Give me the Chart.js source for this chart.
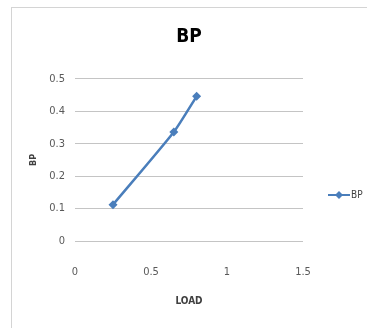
<!DOCTYPE html>
<html>
<head>
<meta charset="utf-8">
<script src="https://cdn.jsdelivr.net/npm/chart.js@4/dist/chart.umd.min.js"></script>
<style>
  html, body { margin: 0; padding: 0; background: #fff; overflow: hidden; }
  #wrap { position: relative; width: 367px; height: 328px; }
  #frame { position: absolute; left: 11px; top: 7px; width: 400px; height: 400px; border: 1px solid #d4d4d4; }
  canvas { position: absolute; left: 0; top: 0; }
</style>
</head>
<body>
<div id="wrap">
  <div id="frame"></div>
  <canvas id="bpChart" width="367" height="328"></canvas>
</div>
<script>
// load vs brake power
const loadValues = [0.25, 0.65, 0.8];
const bpValues = [0.112, 0.336, 0.446];
const xTicks = [0, 0.5, 1, 1.5];
const yTicks = [0, 0.1, 0.2, 0.3, 0.4, 0.5];

const FONT = '"Liberation Sans Narrow", "DejaVu Sans Condensed", sans-serif';
const BLUE = '#4a7ebb';

const points = loadValues.map((x, i) => ({x: x, y: bpValues[i]}));

// legend on the right: line with diamond marker
const sideLegend = {
    id: 'sideLegend',
    afterDraw(chart) {
        const {ctx} = chart;
        const y = 195;
        ctx.save();
        ctx.strokeStyle = BLUE;
        ctx.lineWidth = 2;
        ctx.beginPath();
        ctx.moveTo(328, y);
        ctx.lineTo(350, y);
        ctx.stroke();
        ctx.fillStyle = BLUE;
        ctx.beginPath();
        ctx.moveTo(339, y - 4);
        ctx.lineTo(343, y);
        ctx.lineTo(339, y + 4);
        ctx.lineTo(335, y);
        ctx.closePath();
        ctx.fill();
        ctx.fillStyle = '#404040';
        ctx.font = '10px ' + FONT;
        ctx.textAlign = 'left';
        ctx.textBaseline = 'middle';
        ctx.fillText('BP', 351, y);
        ctx.restore();
    }
};

new Chart(document.getElementById('bpChart').getContext('2d'), {
    type: 'scatter',
    data: {
        datasets: [{
            label: 'BP',
            data: points,
            showLine: true,
            tension: 0.2,
            borderColor: BLUE,
            backgroundColor: BLUE,
            borderWidth: 2.5,
            pointStyle: 'rectRot',
            pointRadius: 4.5,
            pointBorderWidth: 0
        }]
    },
    options: {
        responsive: false,
        animation: false,
        layout: { padding: { left: 11, right: 64, top: 0, bottom: 0 } },
        plugins: {
            legend: { display: false },
            tooltip: { enabled: false },
            title: {
                display: true,
                text: 'BP',
                fullSize: false,
                color: '#000',
                font: { family: FONT, size: 19, weight: 'bold' },
                padding: { top: 26, bottom: 30 }
            }
        },
        scales: {
            x: {
                type: 'linear',
                min: 0,
                max: 1.5,
                afterBuildTicks(scale) { scale.ticks = xTicks.map(v => ({value: v})); },
                afterFit(scale) { scale.height = 87; },
                grid: { display: false },
                border: { display: false },
                ticks: {
                    color: '#595959',
                    padding: 17,
                    font: { family: FONT, size: 11 },
                    callback: v => String(v)
                },
                title: {
                    display: true,
                    text: 'LOAD',
                    color: '#404040',
                    font: { family: FONT, size: 10, weight: 'bold' },
                    padding: { top: 0, bottom: 21 }
                }
            },
            y: {
                min: 0,
                max: 0.5,
                afterBuildTicks(scale) { scale.ticks = yTicks.map(v => ({value: v})); },
                afterFit(scale) { scale.width = 64; },
                grid: { color: '#c4c4c4', lineWidth: 1, drawTicks: false },
                border: { display: false },
                ticks: {
                    color: '#595959',
                    padding: 10,
                    font: { family: FONT, size: 11 },
                    callback: v => String(v)
                },
                title: {
                    display: true,
                    text: 'BP',
                    color: '#404040',
                    font: { family: FONT, size: 9, weight: 'bold' },
                    padding: { top: 17, bottom: 0 }
                }
            }
        }
    },
    plugins: [sideLegend]
});
</script>
</body>
</html>
